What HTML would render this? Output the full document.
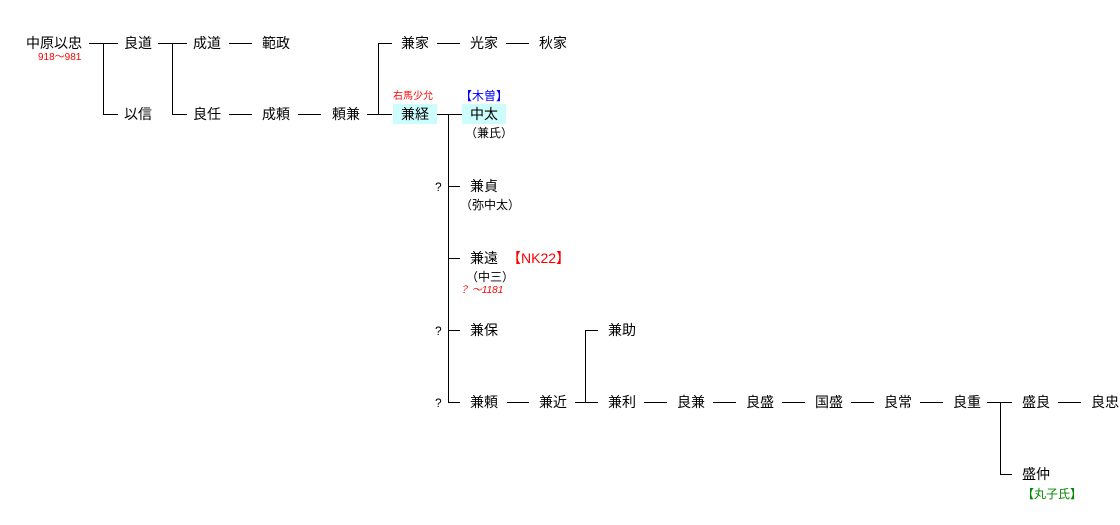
<!DOCTYPE html>
<html><head><meta charset="utf-8"><style>
body{margin:0;width:1120px;height:525px;background:#fff;position:relative;overflow:hidden;font-family:"Liberation Sans","Noto Sans CJK JP",sans-serif}
.t{position:absolute;font-size:14px;line-height:16px;white-space:nowrap;color:#000}
.s{font-size:10px;line-height:12px}
.hl{position:absolute;background:#ccfcfc}
svg{position:absolute;left:0;top:0}
</style></head><body>
<div class="hl" style="left:393px;top:104px;width:44px;height:20px"></div>
<div class="hl" style="left:462px;top:104px;width:44px;height:20px"></div>
<svg width="1120" height="525" stroke="#000" stroke-width="1" fill="none" shape-rendering="crispEdges">
<path d="M89 43.5H118M103.5 43V114.5H118"/>
<path d="M158 43.5H187M172.5 43V114.5H187"/>
<path d="M229 43.5H252M229 114.5H252M298 114.5H321"/>
<path d="M367 114.5H392M378.5 43V114.5M378 43.5H392"/>
<path d="M437 43.5H460M506 43.5H529"/>
<path d="M437 114.5H462M448.5 114V402.5"/>
<path d="M448 186.5H460M448 258.5H460M448 330.5H460M448 402.5H460"/>
<path d="M507 402.5H529M575 402.5H598M585.5 330V402.5M585 330.5H598"/>
<path d="M644 402.5H667M713 402.5H736M782 402.5H805M851 402.5H874M920 402.5H943"/>
<path d="M987 402.5H1012M1000.5 402V474.5H1012M1058 402.5H1081"/>
</svg>
<div class="t" style="left:26px;top:35px">中原以忠</div>
<div class="t s" style="left:38px;top:52px;color:#f00">918～981</div>
<div class="t" style="left:124px;top:35px">良道</div>
<div class="t" style="left:124px;top:106px">以信</div>
<div class="t" style="left:193px;top:35px">成道</div>
<div class="t" style="left:262px;top:35px">範政</div>
<div class="t" style="left:193px;top:106px">良任</div>
<div class="t" style="left:262px;top:106px">成頼</div>
<div class="t" style="left:332px;top:106px">頼兼</div>
<div class="t" style="left:401px;top:35px">兼家</div>
<div class="t" style="left:470px;top:35px">光家</div>
<div class="t" style="left:539px;top:35px">秋家</div>
<div class="t s" style="left:393px;top:91px;color:#f00">右馬少允</div>
<div class="t" style="left:401px;top:106px">兼経</div>
<div class="t" style="left:460px;top:88px;font-size:12px;color:#00f">【木曽】</div>
<div class="t" style="left:470px;top:106px">中太</div>
<div class="t" style="left:465px;top:125px;font-size:12px">（兼氏）</div>
<div class="t" style="left:435px;top:179px;font-size:12px">?</div>
<div class="t" style="left:470px;top:178px">兼貞</div>
<div class="t" style="left:460px;top:197px;font-size:12px">（弥中太）</div>
<div class="t" style="left:470px;top:250px">兼遠</div>
<div class="t" style="left:507px;top:250px;color:#f00">【NK22】</div>
<div class="t" style="left:466px;top:269px;font-size:12px">（中三）</div>
<div class="t s" style="left:459px;top:285px;color:#f00;font-style:italic">？ ～1181</div>
<div class="t" style="left:435px;top:323px;font-size:12px">?</div>
<div class="t" style="left:470px;top:322px">兼保</div>
<div class="t" style="left:435px;top:395px;font-size:12px">?</div>
<div class="t" style="left:470px;top:394px">兼頼</div>
<div class="t" style="left:539px;top:394px">兼近</div>
<div class="t" style="left:608px;top:322px">兼助</div>
<div class="t" style="left:608px;top:394px">兼利</div>
<div class="t" style="left:677px;top:394px">良兼</div>
<div class="t" style="left:746px;top:394px">良盛</div>
<div class="t" style="left:815px;top:394px">国盛</div>
<div class="t" style="left:884px;top:394px">良常</div>
<div class="t" style="left:953px;top:394px">良重</div>
<div class="t" style="left:1022px;top:394px">盛良</div>
<div class="t" style="left:1091px;top:394px">良忠</div>
<div class="t" style="left:1022px;top:466px">盛仲</div>
<div class="t" style="left:1022px;top:486px;font-size:12px;color:#080">【丸子氏】</div>
</body></html>
